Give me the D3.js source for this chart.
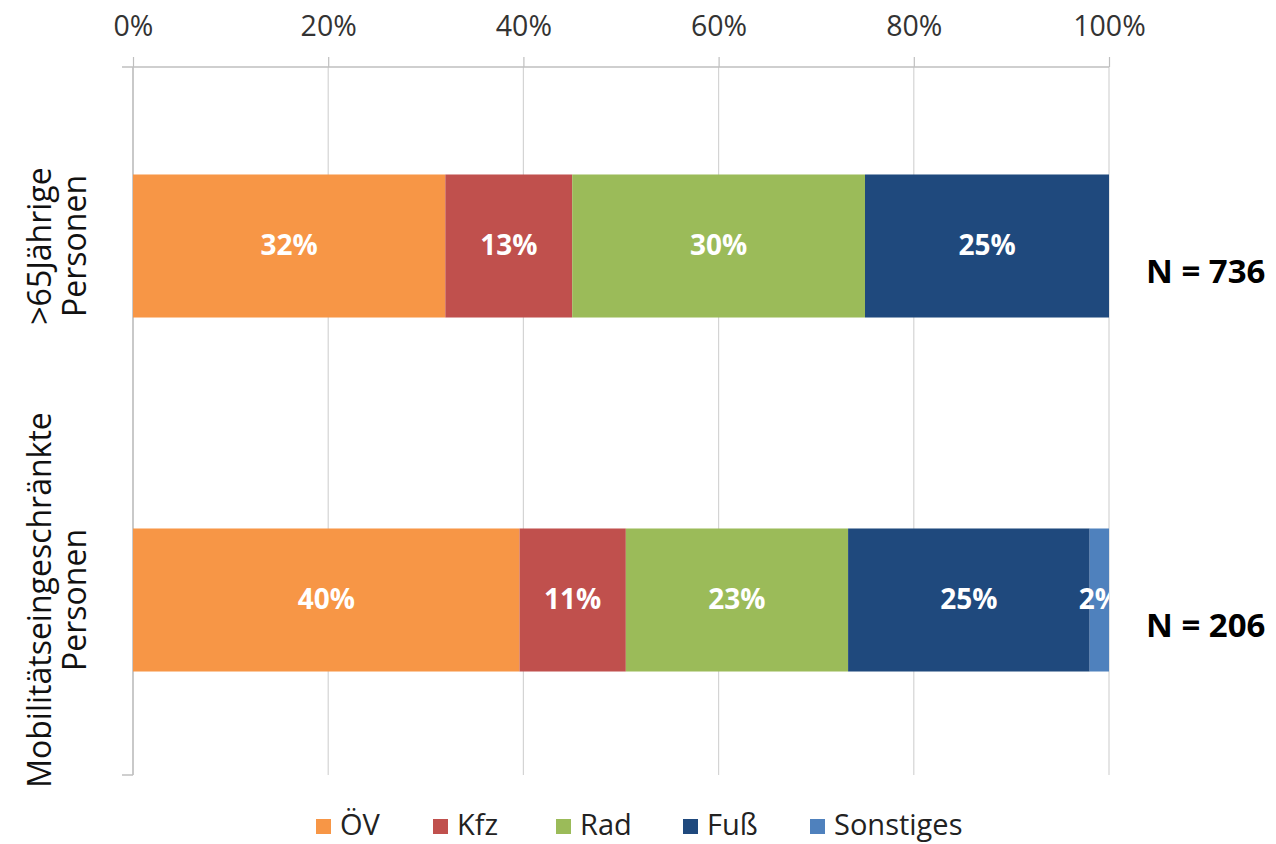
<!DOCTYPE html>
<html lang="de">
<head>
<meta charset="utf-8">
<script src="https://cdn.jsdelivr.net/npm/d3@7"></script>
<style>
  html, body { margin: 0; padding: 0; background: #fff; }
  svg { display: block; font-family: "Open Sans", "Noto Sans", sans-serif; }
</style>
</head>
<body>
<svg id="chart" width="1276" height="844"></svg>
<script>
// Verkehrsmittelwahl nach Personengruppe (Anteile in %)
const groups = [">65Jährige Personen", "Mobilitätseingeschränkte Personen"];
const groupLines = [[">65Jährige", "Personen"], ["Mobilitätseingeschränkte", "Personen"]];
const modes = ["ÖV", "Kfz", "Rad", "Fuß", "Sonstiges"];
const shareOV = [32, 40];
const shareKfz = [13, 11];
const shareRad = [30, 23];
const shareFuss = [25, 25];
const shareSonst = [0, 2];
const sampleSizes = ["N = 736", "N = 206"];
const tickValues = [0, 0.2, 0.4, 0.6, 0.8, 1];
const colors = ["#F79646", "#C0504D", "#9BBB59", "#1F497D", "#4F81BD"];

const rows = groups.map((g, i) => ({
  group: g,
  "ÖV": shareOV[i],
  "Kfz": shareKfz[i],
  "Rad": shareRad[i],
  "Fuß": shareFuss[i],
  "Sonstiges": shareSonst[i]
}));

const svg = d3.select("#chart");

const plot = { left: 133, right: 1109, top: 67, bottom: 775 };

const x = d3.scaleLinear().domain([0, 1]).range([plot.left, plot.right]);
const y = d3.scaleBand().domain(groups).range([plot.top + 2, plot.bottom + 2])
  .paddingInner(0.596).paddingOuter(0.298);
const color = d3.scaleOrdinal().domain(modes).range(colors);

const series = d3.stack().keys(modes).offset(d3.stackOffsetExpand)(rows);

// Gitternetzlinien
svg.append("g")
  .selectAll("line")
  .data(tickValues)
  .join("line")
  .attr("x1", d => x(d)).attr("x2", d => x(d))
  .attr("y1", plot.top).attr("y2", plot.bottom)
  .attr("stroke", "#d4d4d4").attr("stroke-width", 1.2);

// Obere Prozentachse
const xAxis = svg.append("g")
  .attr("transform", `translate(0,${plot.top})`)
  .call(d3.axisTop(x).tickValues(tickValues).tickFormat(d3.format(".0%"))
    .tickSize(10).tickSizeOuter(0).tickPadding(21));
xAxis.select(".domain").remove();
xAxis.selectAll(".tick line").attr("stroke", "#bfbfbf").attr("stroke-width", 1.2);
xAxis.selectAll(".tick text")
  .attr("fill", "#333").style("font-size", "28.5px").style("font-family", "'Open Sans', sans-serif");
svg.append("line")
  .attr("x1", x(0) - 11).attr("x2", x(1))
  .attr("y1", plot.top).attr("y2", plot.top)
  .attr("stroke", "#bfbfbf").attr("stroke-width", 1.5);

// Kategorienachse links
svg.append("line")
  .attr("x1", x(0)).attr("x2", x(0))
  .attr("y1", plot.top).attr("y2", plot.bottom)
  .attr("stroke", "#bfbfbf").attr("stroke-width", 1.5);
svg.append("line")
  .attr("x1", x(0) - 11).attr("x2", x(0))
  .attr("y1", plot.bottom).attr("y2", plot.bottom)
  .attr("stroke", "#bfbfbf").attr("stroke-width", 1.5);

// Gestapelte Balken
const layer = svg.append("g")
  .selectAll("g")
  .data(series)
  .join("g")
  .attr("fill", d => color(d.key));
layer.selectAll("rect")
  .data(d => d)
  .join("rect")
  .attr("x", d => x(d[0]))
  .attr("width", d => x(d[1]) - x(d[0]))
  .attr("y", d => y(d.data.group))
  .attr("height", y.bandwidth());

// Wertbeschriftungen, auf die Zeichenfläche begrenzt
svg.append("clipPath").attr("id", "plotClip")
  .append("rect")
  .attr("x", plot.left).attr("y", plot.top)
  .attr("width", plot.right - plot.left).attr("height", plot.bottom - plot.top);

const labels = [];
series.forEach(s => s.forEach(d => {
  const v = d.data[s.key];
  if (v > 0) labels.push({ x: (x(d[0]) + x(d[1])) / 2, y: y(d.data.group) + y.bandwidth() / 2, text: v + "%" });
}));
svg.append("g").attr("clip-path", "url(#plotClip)")
  .selectAll("text")
  .data(labels)
  .join("text")
  .attr("x", d => d.x).attr("y", d => d.y + 2)
  .attr("text-anchor", "middle").attr("dominant-baseline", "middle")
  .attr("fill", "#fff").style("font-size", "28px").style("font-weight", "bold")
  .text(d => d.text);

// Gruppenbeschriftungen (gedreht)
groups.forEach((g, i) => {
  const cy = y(g) + y.bandwidth() / 2;
  const t = svg.append("text")
    .attr("transform", `translate(${55},${cy}) rotate(-90)`)
    .attr("text-anchor", "middle")
    .attr("fill", "#111").style("font-size", "32px");
  groupLines[i].forEach((line, j) => {
    t.append("tspan").attr("x", 0).attr("dy", j === 0 ? "-0.12em" : "1.1em").text(line);
  });
});

// Stichprobengrößen
svg.append("g")
  .selectAll("text")
  .data(groups)
  .join("text")
  .attr("x", 1146)
  .attr("y", d => y(d) + y.bandwidth() / 2 + 37)
  .attr("fill", "#000").style("font-size", "33px").style("font-weight", "bold")
  .text((d, i) => sampleSizes[i]);

// Legende
const legendX = [316, 433, 556, 683, 810];
const legend = svg.append("g")
  .selectAll("g")
  .data(modes)
  .join("g")
  .attr("transform", (d, i) => `translate(${legendX[i]},819)`);
legend.append("rect").attr("width", 15).attr("height", 15).attr("fill", d => color(d));
legend.append("text")
  .attr("x", 24).attr("y", 8).attr("dominant-baseline", "middle")
  .attr("fill", "#222").style("font-size", "29px")
  .text(d => d);
</script>
</body>
</html>
